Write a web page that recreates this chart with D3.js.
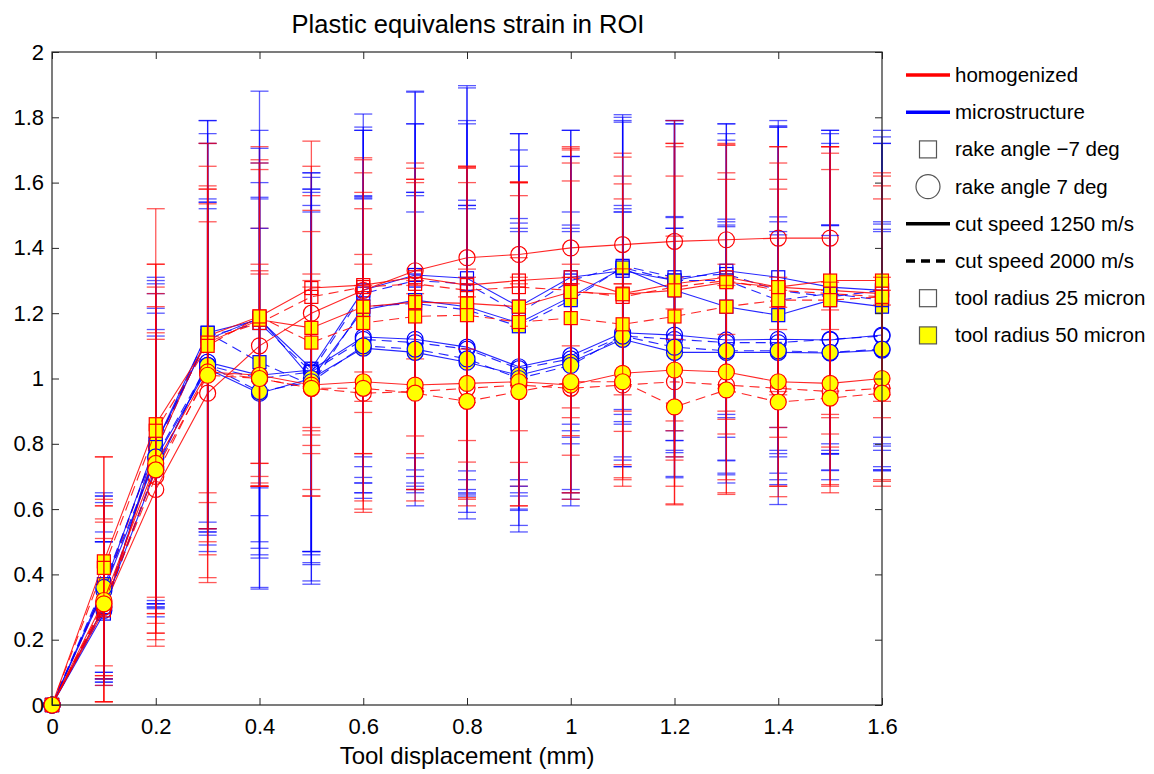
<!DOCTYPE html>
<html>
<head>
<meta charset="utf-8">
<script src="https://cdn.jsdelivr.net/npm/d3@7"></script>
<style>
body { margin: 0; background: #fff; }
text { font-family: "Liberation Sans", Arial, sans-serif; }
</style>
</head>
<body>
<div id="chart"></div>
<script>
// tool displacement (mm)
var displacement = [0, 0.1, 0.2, 0.3, 0.4, 0.5, 0.6, 0.7, 0.8, 0.9, 1.0, 1.1, 1.2, 1.3, 1.4, 1.5, 1.6];
var xTicks = [0, 0.2, 0.4, 0.6, 0.8, 1, 1.2, 1.4, 1.6];
var yTicks = [0, 0.2, 0.4, 0.6, 0.8, 1, 1.2, 1.4, 1.6, 1.8, 2];

// homogenized - rake -7 (square)
var homSqSolidOpen   = [0, 0.29, 0.78, 1.13, 1.19, 1.277, 1.286, 1.31, 1.286, 1.30, 1.31, 1.26, 1.29, 1.31, 1.28, 1.27, 1.26];
var homSqSolidOpenE  = [0, 0.28, 0.50, 0.59, 0.52, 0.45, 0.39, 0.35, 0.36, 0.30, 0.40, 0.36, 0.42, 0.41, 0.33, 0.44, 0.33];
var homSqDashOpen    = [0, 0.35, 0.80, 1.12, 1.17, 1.25, 1.28, 1.29, 1.27, 1.28, 1.27, 1.25, 1.28, 1.30, 1.27, 1.26, 1.25];
var homSqDashOpenE   = [0, 0.26, 0.55, 0.47, 0.50, 0.40, 0.35, 0.32, 0.33, 0.28, 0.39, 0.30, 0.44, 0.33, 0.31, 0.38, 0.30];
var homSqSolidFill   = [0, 0.44, 0.86, 1.11, 1.18, 1.155, 1.22, 1.234, 1.23, 1.22, 1.265, 1.258, 1.27, 1.295, 1.28, 1.30, 1.30];
var homSqSolidFillE  = [0, 0.32, 0.66, 0.61, 0.48, 0.36, 0.45, 0.41, 0.42, 0.38, 0.44, 0.42, 0.52, 0.42, 0.43, 0.41, 0.33];
var homSqDashFill    = [0, 0.42, 0.84, 1.10, 1.19, 1.11, 1.17, 1.19, 1.194, 1.173, 1.185, 1.166, 1.19, 1.22, 1.24, 1.24, 1.25];
var homSqDashFillE   = [0, 0.34, 0.51, 0.48, 0.45, 0.34, 0.40, 0.42, 0.45, 0.43, 0.42, 0.43, 0.43, 0.39, 0.42, 0.45, 0.37];
// homogenized - rake 7 (circle)
var homCiSolidOpen   = [0, 0.30, 0.66, 0.955, 1.10, 1.20, 1.27, 1.33, 1.37, 1.38, 1.40, 1.41, 1.42, 1.425, 1.43, 1.43, null];
var homCiSolidOpenE  = [0, 0.21, 0.48, 0.58, 0.36, 0.36, 0.25, 0.27, 0.28, 0.22, 0.30, 0.28, 0.30, 0.29, 0.28, 0.28, 0];
var homCiDashOpen    = [0, 0.31, 0.70, 1.02, 1.00, 0.97, 0.955, 0.96, 0.97, 0.98, 0.97, 0.98, 0.99, 0.98, 0.97, 0.96, 0.97];
var homCiDashOpenE   = [0, 0.25, 0.42, 0.56, 0.32, 0.33, 0.33, 0.30, 0.34, 0.31, 0.32, 0.31, 0.32, 0.33, 0.30, 0.31, 0.30];
var homCiSolidFill   = [0, 0.32, 0.74, 1.02, 1.01, 0.98, 0.99, 0.98, 0.985, 0.99, 0.98, 1.016, 1.026, 1.02, 0.99, 0.985, 1.00];
var homCiSolidFillE  = [0, 0.31, 0.52, 0.63, 0.34, 0.34, 0.39, 0.32, 0.35, 0.38, 0.33, 0.32, 0.41, 0.33, 0.32, 0.31, 0.31];
var homCiDashFill    = [0, 0.31, 0.72, 1.01, 1.00, 0.97, 0.97, 0.955, 0.93, 0.96, 0.99, 0.99, 0.913, 0.965, 0.928, 0.94, 0.955];
var homCiDashFillE   = [0, 0.30, 0.50, 0.47, 0.33, 0.31, 0.38, 0.33, 0.32, 0.35, 0.36, 0.30, 0.30, 0.32, 0.29, 0.27, 0.27];
// microstructure - rake -7 (square)
var micSqSolidOpen   = [0, 0.28, 0.80, 1.14, 1.18, 1.03, 1.27, 1.317, 1.307, 1.22, 1.31, 1.33, 1.30, 1.33, 1.31, 1.28, 1.27];
var micSqSolidOpenE  = [0, 0.22, 0.49, 0.65, 0.70, 0.60, 0.54, 0.56, 0.59, 0.53, 0.45, 0.47, 0.49, 0.45, 0.46, 0.48, 0.45];
var micSqDashOpen    = [0, 0.30, 0.78, 1.13, 1.17, 1.02, 1.26, 1.30, 1.29, 1.20, 1.30, 1.345, 1.31, 1.32, 1.27, 1.25, 1.27];
var micSqDashOpenE   = [0, 0.23, 0.48, 0.66, 0.59, 0.56, 0.50, 0.58, 0.60, 0.55, 0.46, 0.44, 0.47, 0.43, 0.50, 0.47, 0.47];
var micSqSolidFill   = [0, 0.36, 0.80, 1.12, 1.185, 1.00, 1.21, 1.24, 1.22, 1.17, 1.25, 1.338, 1.27, 1.22, 1.194, 1.24, 1.22];
var micSqSolidFillE  = [0, 0.28, 0.50, 0.60, 0.52, 0.53, 0.56, 0.54, 0.57, 0.53, 0.43, 0.47, 0.51, 0.51, 0.58, 0.52, 0.50];
var micSqDashFill    = [0, 0.37, 0.79, 1.14, 1.05, 0.98, 1.22, 1.23, 1.21, 1.16, 1.24, 1.34, 1.30, 1.30, 1.24, 1.26, 1.24];
var micSqDashFillE   = [0, 0.27, 0.52, 0.61, 0.55, 0.60, 0.54, 0.55, 0.57, 0.49, 0.44, 0.45, 0.49, 0.48, 0.55, 0.49, 0.52];
// microstructure - rake 7 (circle)
var micCiSolidOpen   = [0, 0.30, 0.72, 1.05, 1.01, 1.026, 1.127, 1.12, 1.096, 1.036, 1.07, 1.14, 1.133, 1.118, 1.12, 1.118, 1.133];
var micCiSolidOpenE  = [0, 0.20, 0.41, 0.49, 0.65, 0.59, 0.43, 0.45, 0.45, 0.44, 0.44, 0.38, 0.36, 0.37, 0.36, 0.35, 0.34];
var micCiDashOpen    = [0, 0.29, 0.73, 1.04, 1.00, 1.02, 1.12, 1.11, 1.09, 1.03, 1.06, 1.13, 1.12, 1.11, 1.11, 1.12, 1.13];
var micCiDashOpenE   = [0, 0.21, 0.42, 0.50, 0.55, 0.55, 0.44, 0.45, 0.43, 0.43, 0.40, 0.38, 0.34, 0.36, 0.33, 0.35, 0.35];
var micCiSolidFill   = [0, 0.35, 0.755, 1.03, 0.955, 1.00, 1.093, 1.08, 1.05, 1.01, 1.05, 1.12, 1.08, 1.08, 1.08, 1.078, 1.087];
var micCiSolidFillE  = [0, 0.27, 0.46, 0.49, 0.60, 0.63, 0.46, 0.43, 0.48, 0.48, 0.40, 0.39, 0.38, 0.40, 0.37, 0.36, 0.37];
var micCiDashFill    = [0, 0.36, 0.76, 1.04, 0.96, 0.99, 1.10, 1.09, 1.06, 1.00, 1.04, 1.13, 1.096, 1.085, 1.085, 1.08, 1.09];
var micCiDashFillE   = [0, 0.29, 0.44, 0.51, 0.50, 0.52, 0.45, 0.48, 0.47, 0.45, 0.43, 0.40, 0.40, 0.38, 0.41, 0.39, 0.36];

var legendLabels = ["homogenized", "microstructure", "rake angle \u22127 deg", "rake angle 7 deg",
                    "cut speed 1250 m/s", "cut speed 2000 m/s", "tool radius 25 micron", "tool radius 50 micron"];

var RED = "#ff0000", BLUE = "#0000ff", YELLOW = "#ffff00";

// drawing order: open markers first, yellow ones on top
var series = [
    {v: micSqSolidOpen, e: micSqSolidOpenE, c: BLUE, m: "sq", dash: false, fill: "none"},
    {v: micSqDashOpen,  e: micSqDashOpenE,  c: BLUE, m: "sq", dash: true,  fill: "none"},
    {v: micCiSolidOpen, e: micCiSolidOpenE, c: BLUE, m: "ci", dash: false, fill: "none"},
    {v: micCiDashOpen,  e: micCiDashOpenE,  c: BLUE, m: "ci", dash: true,  fill: "none"},
    {v: homSqSolidOpen, e: homSqSolidOpenE, c: RED, m: "sq", dash: false, fill: "none"},
    {v: homSqDashOpen,  e: homSqDashOpenE,  c: RED, m: "sq", dash: true,  fill: "none"},
    {v: homCiSolidOpen, e: homCiSolidOpenE, c: RED, m: "ci", dash: false, fill: "none"},
    {v: homCiDashOpen,  e: homCiDashOpenE,  c: RED, m: "ci", dash: true,  fill: "none"},
    {v: micSqSolidFill, e: micSqSolidFillE, c: BLUE, m: "sq", dash: false, fill: YELLOW},
    {v: micSqDashFill,  e: micSqDashFillE,  c: BLUE, m: "sq", dash: true,  fill: YELLOW},
    {v: micCiSolidFill, e: micCiSolidFillE, c: BLUE, m: "ci", dash: false, fill: YELLOW},
    {v: micCiDashFill,  e: micCiDashFillE,  c: BLUE, m: "ci", dash: true,  fill: YELLOW},
    {v: homSqSolidFill, e: homSqSolidFillE, c: RED, m: "sq", dash: false, fill: YELLOW},
    {v: homSqDashFill,  e: homSqDashFillE,  c: RED, m: "sq", dash: true,  fill: YELLOW},
    {v: homCiSolidFill, e: homCiSolidFillE, c: RED, m: "ci", dash: false, fill: YELLOW},
    {v: homCiDashFill,  e: homCiDashFillE,  c: RED, m: "ci", dash: true,  fill: YELLOW}
];

var width = 1154, height = 774;
var plotLeft = 52, plotRight = 882, plotTop = 52, plotBottom = 705;

var x = d3.scaleLinear().domain([0, 1.6]).range([plotLeft, plotRight]);
var y = d3.scaleLinear().domain([0, 2]).range([plotBottom, plotTop]);

var svg = d3.select("#chart").append("svg")
    .attr("width", width)
    .attr("height", height);

// title
svg.append("text")
    .attr("x", 468)
    .attr("y", 33)
    .attr("text-anchor", "middle")
    .style("font-size", "25.5px")
    .text("Plastic equivalens strain in ROI");

var plot = svg.append("g");

var line = d3.line()
    .defined(function(d) { return d.v != null; })
    .x(function(d) { return x(d.x); })
    .y(function(d) { return y(d.v); });

var cap = 9;

series.forEach(function(s) {
    var pts = displacement.map(function(d, i) { return {x: d, v: s.v[i], e: s.e[i]}; });
    var g = plot.append("g");

    // error bars
    var eb = g.selectAll("g.eb")
        .data(pts.filter(function(d) { return d.v != null && d.e > 0; }))
        .enter().append("g")
        .attr("stroke", s.c)
        .attr("stroke-width", 1.3)
        .attr("stroke-opacity", 0.65);
    eb.append("line")
        .attr("x1", function(d) { return x(d.x); })
        .attr("x2", function(d) { return x(d.x); })
        .attr("y1", function(d) { return y(d.v - d.e); })
        .attr("y2", function(d) { return y(d.v + d.e); });
    eb.append("line")
        .attr("x1", function(d) { return x(d.x) - cap; })
        .attr("x2", function(d) { return x(d.x) + cap; })
        .attr("y1", function(d) { return y(d.v + d.e); })
        .attr("y2", function(d) { return y(d.v + d.e); });
    eb.append("line")
        .attr("x1", function(d) { return x(d.x) - cap; })
        .attr("x2", function(d) { return x(d.x) + cap; })
        .attr("y1", function(d) { return y(d.v - d.e); })
        .attr("y2", function(d) { return y(d.v - d.e); });

    // connecting line
    g.append("path")
        .datum(pts)
        .attr("d", line)
        .attr("fill", "none")
        .attr("stroke", s.c)
        .attr("stroke-width", 1.1)
        .attr("stroke-opacity", 0.85)
        .attr("stroke-dasharray", s.dash ? "10,6" : null);

    // markers
    var mk = g.selectAll(".mk")
        .data(pts.filter(function(d) { return d.v != null; }))
        .enter();
    if (s.m == "sq") {
        mk.append("rect")
            .attr("x", function(d) { return x(d.x) - 6.5; })
            .attr("y", function(d) { return y(d.v) - 6.5; })
            .attr("width", 13)
            .attr("height", 13)
            .attr("fill", s.fill)
            .attr("stroke", s.c)
            .attr("stroke-width", 1.2);
    } else {
        mk.append("circle")
            .attr("cx", function(d) { return x(d.x); })
            .attr("cy", function(d) { return y(d.v); })
            .attr("r", 8)
            .attr("fill", s.fill)
            .attr("stroke", s.c)
            .attr("stroke-width", 1.2);
    }
});

// axes (ticks pointing inward, box on)
var axisFont = "22px";
svg.append("g")
    .attr("transform", "translate(0," + plotBottom + ")")
    .call(d3.axisBottom(x).tickValues(xTicks).tickSizeInner(-7).tickSizeOuter(0).tickPadding(13)
        .tickFormat(function(d) { return String(d); }));
svg.append("g")
    .attr("transform", "translate(" + plotLeft + ",0)")
    .call(d3.axisLeft(y).tickValues(yTicks).tickSizeInner(-7).tickSizeOuter(0).tickPadding(8)
        .tickFormat(function(d) { return String(d); }));
svg.append("g")
    .attr("transform", "translate(0," + plotTop + ")")
    .call(d3.axisTop(x).tickValues(xTicks).tickSizeInner(-7).tickSizeOuter(0).tickFormat(""));
svg.append("g")
    .attr("transform", "translate(" + plotRight + ",0)")
    .call(d3.axisRight(y).tickValues(yTicks).tickSizeInner(-7).tickSizeOuter(0).tickFormat(""));

svg.selectAll(".domain").remove();
svg.selectAll(".tick line").attr("stroke", "#262626");
svg.selectAll(".tick text")
    .style("font-size", axisFont)
    .style("font-family", "'Liberation Sans', Arial, sans-serif")
    .attr("fill", "#000");

svg.append("rect")
    .attr("x", plotLeft)
    .attr("y", plotTop)
    .attr("width", plotRight - plotLeft)
    .attr("height", plotBottom - plotTop)
    .attr("fill", "none")
    .attr("stroke", "#262626")
    .attr("stroke-width", 1.2);

// x label
svg.append("text")
    .attr("x", 467)
    .attr("y", 764)
    .attr("text-anchor", "middle")
    .style("font-size", "24px")
    .text("Tool displacement (mm)");

// legend
var lg = svg.append("g");
var ly0 = 75, ldy = 37.2, lx1 = 906, lx2 = 950, lmid = 928, ltext = 955;
legendLabels.forEach(function(label, i) {
    var yy = ly0 + i * ldy;
    if (i == 0 || i == 1 || i == 4 || i == 5) {
        lg.append("line")
            .attr("x1", lx1).attr("x2", lx2)
            .attr("y1", yy).attr("y2", yy)
            .attr("stroke", i == 0 ? RED : (i == 1 ? BLUE : "#000"))
            .attr("stroke-width", 3.5)
            .attr("stroke-dasharray", i == 5 ? "9,6" : null);
    } else if (i == 3) {
        lg.append("circle")
            .attr("cx", lmid).attr("cy", yy).attr("r", 12)
            .attr("fill", "none").attr("stroke", "#555").attr("stroke-width", 1.2);
    } else {
        lg.append("rect")
            .attr("x", lmid - 8.5).attr("y", yy - 8.5)
            .attr("width", 17).attr("height", 17)
            .attr("fill", i == 7 ? YELLOW : "none")
            .attr("stroke", "#555").attr("stroke-width", 1.2);
    }
    lg.append("text")
        .attr("x", ltext)
        .attr("y", yy + 7)
        .style("font-size", "20.5px")
        .text(label);
});
</script>
</body>
</html>
